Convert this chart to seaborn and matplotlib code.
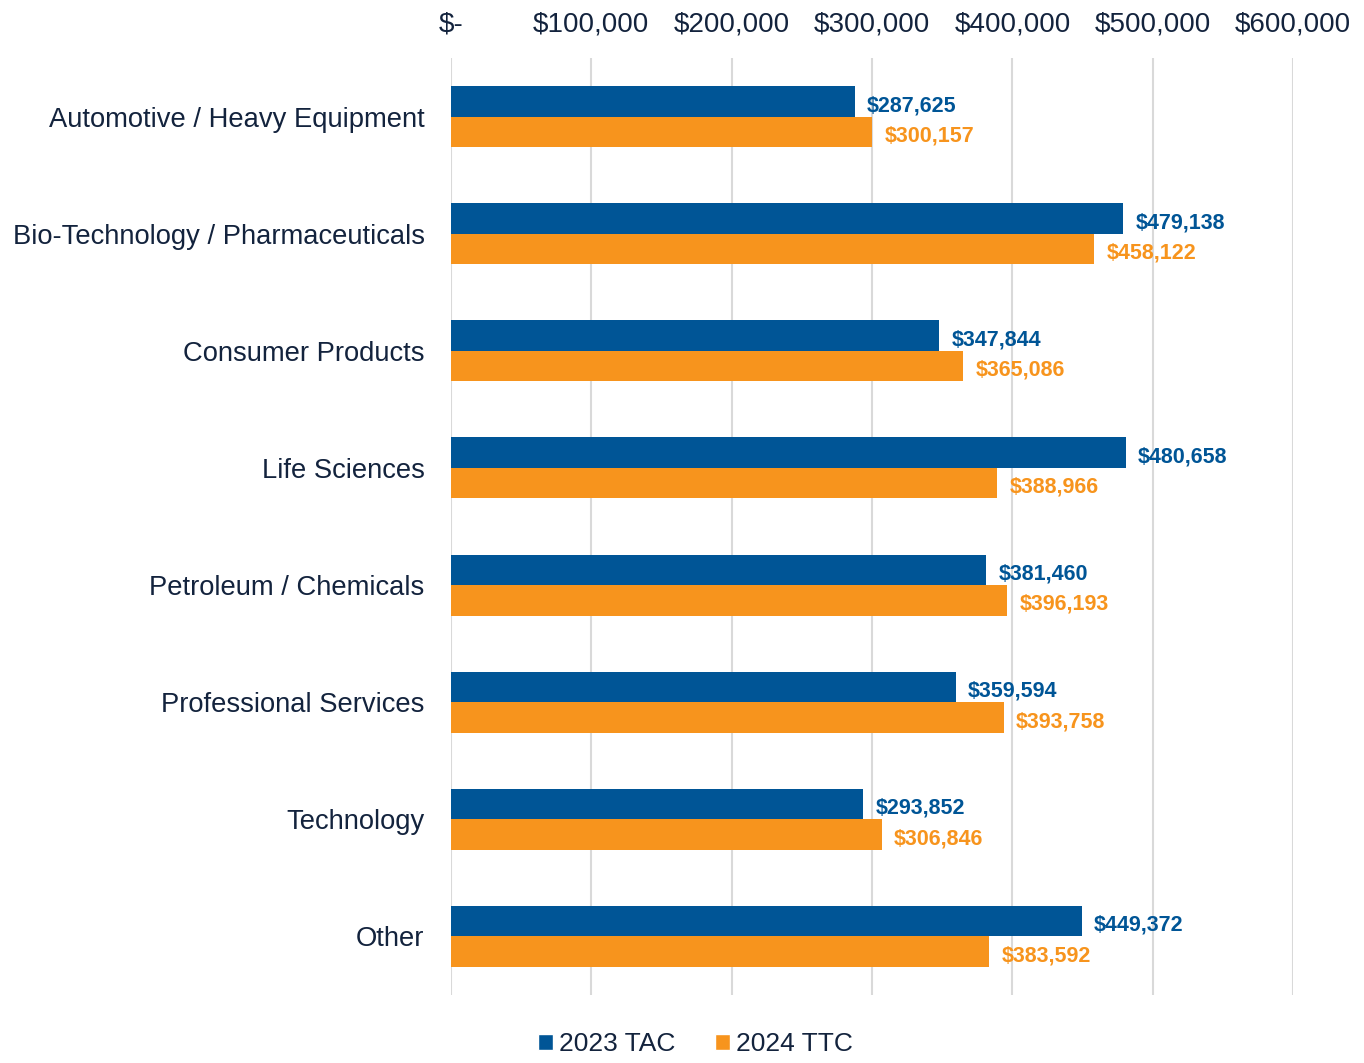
import matplotlib
matplotlib.use("Agg")
import matplotlib.pyplot as plt
import seaborn as sns
import pandas as pd
from matplotlib.ticker import FuncFormatter
from matplotlib.patches import Patch

# ---------------- DATA ----------------

industries = [
    "Automotive / Heavy Equipment",
    "Bio-Technology / Pharmaceuticals",
    "Consumer Products",
    "Life Sciences",
    "Petroleum / Chemicals",
    "Professional Services",
    "Technology",
    "Other",
]
tac_2023 = [287625, 479138, 347844, 480658, 381460, 359594, 293852, 449372]
ttc_2024 = [300157, 458122, 365086, 388966, 396193, 393758, 306846, 383592]
series = ["2023 TAC", "2024 TTC"]

BLUE = "#005596"
ORANGE = "#F7941D"
TEXT = "#13233d"

df = pd.DataFrame({
    "Industry": industries * 2,
    "Value": tac_2023 + ttc_2024,
    "Series": [series[0]] * len(industries) + [series[1]] * len(industries),
})

# ---------------- PLOT ----------------

sns.set_style("white")
plt.rcParams["font.family"] = ["Liberation Sans", "DejaVu Sans"]

fig = plt.figure(figsize=(13.64, 10.63), dpi=100)
ax = fig.add_axes([0.3306, 0.064, 0.6174, 0.8814])

sns.barplot(
    data=df, x="Value", y="Industry", hue="Series", orient="h",
    palette=[BLUE, ORANGE], width=0.52, saturation=1, legend=False,
    linewidth=0, ax=ax,
)

ax.set_xlim(0, 600000)
ax.set_ylim(7.5, -0.5)
ax.xaxis.tick_top()
ax.xaxis.set_major_formatter(FuncFormatter(lambda v, p: "$-" if v == 0 else f"${v:,.0f}"))
ax.tick_params(axis="x", labelsize=20, colors=TEXT, length=0, pad=15)
ax.tick_params(axis="y", labelsize=19.7, colors=TEXT, length=0, pad=19)
ax.set_xlabel("")
ax.set_ylabel("")
ax.grid(axis="x", color="#d9d9d9", linewidth=1.5)
ax.set_axisbelow(True)
for s in ax.spines.values():
    s.set_visible(False)

# value labels (nudged slightly down like the original)
for container, color in zip(ax.containers, [BLUE, ORANGE]):
    texts = ax.bar_label(container, labels=[f"${v:,.0f}" for v in container.datavalues],
                         padding=9, color=color, fontsize=15.5, fontweight="bold")
    for t in texts:
        x, y = t.xyann
        t.xyann = (x, y - 3)

handles = [Patch(facecolor=BLUE, label=series[0]), Patch(facecolor=ORANGE, label=series[1])]
fig.legend(handles=handles, loc="lower center", bbox_to_anchor=(0.51, -0.016), ncol=2,
           frameon=False, fontsize=19, handlelength=0.55, handleheight=0.55,
           handletextpad=0.25, columnspacing=1.5, labelcolor=TEXT)

fig.savefig("out.png", dpi=100)
